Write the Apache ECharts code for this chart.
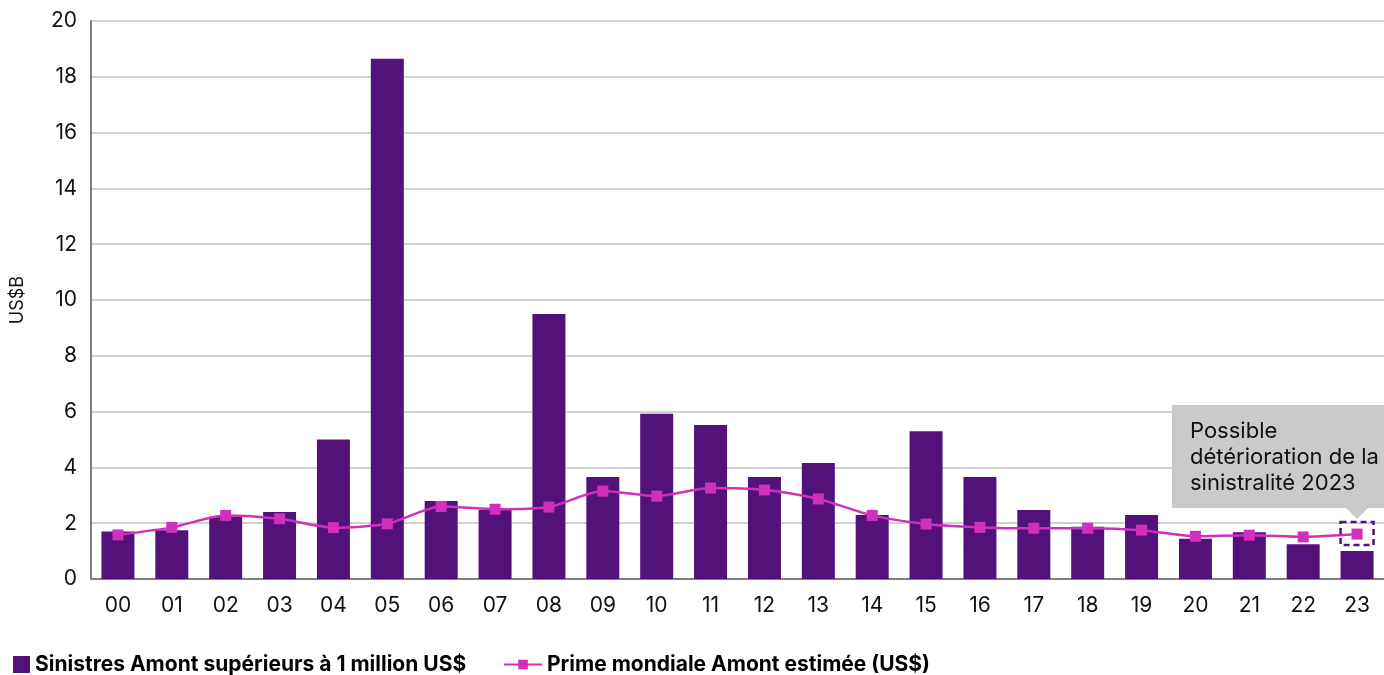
<!DOCTYPE html>
<html>
<head>
<meta charset="utf-8">
<script src="https://cdn.jsdelivr.net/npm/echarts@6/dist/echarts.min.js"></script>
<style>
  html, body { margin: 0; padding: 0; background: #fff; }
  #chart { width: 1384px; height: 675px; }
</style>
</head>
<body>
<div id="chart"></div>
<script>
const years = ['00','01','02','03','04','05','06','07','08','09','10','11','12','13','14','15','16','17','18','19','20','21','22','23']
const losses = [1.7, 1.75, 2.23, 2.4, 5.0, 18.65, 2.8, 2.47, 9.5, 3.66, 5.92, 5.52, 3.66, 4.16, 2.29, 5.3, 3.66, 2.47, 1.87, 2.29, 1.44, 1.68, 1.25, 1.0]
const premium = [1.58, 1.85, 2.28, 2.16, 1.84, 1.98, 2.6, 2.5, 2.58, 3.15, 2.97, 3.26, 3.19, 2.87, 2.28, 1.97, 1.85, 1.82, 1.82, 1.75, 1.53, 1.57, 1.51, 1.61]
const yTicks = { min: 0, max: 20, interval: 2 }
const lossName = 'Sinistres Amont supérieurs à 1 million US$'
const premiumName = 'Prime mondiale Amont estimée (US$)'
const noteLines = ['Possible', 'détérioration de la', 'sinistralité 2023']

const font = 'Inter, "Noto Sans", sans-serif'
const chart = echarts.init(document.getElementById('chart'))

chart.setOption({
  animation: false,
  textStyle: { fontFamily: font },
  grid: { left: 91, right: -4, top: 21, bottom: 96 },
  legend: [
    {
      data: [{ name: lossName, icon: 'rect' }],
      left: 8, bottom: -5, itemWidth: 17, itemHeight: 17, itemGap: 8,
      textStyle: { fontSize: 21, fontWeight: 'bold', color: '#000', fontFamily: font }
    },
    {
      data: [premiumName],
      left: 498, bottom: -5, itemWidth: 38, itemHeight: 12,
      textStyle: { fontSize: 21, fontWeight: 'bold', color: '#000', fontFamily: font }
    }
  ],
  xAxis: {
    type: 'category',
    data: years,
    axisTick: { show: false },
    axisLine: { lineStyle: { color: '#808080', width: 2 } },
    axisLabel: { fontSize: 21, color: '#111', margin: 16 }
  },
  yAxis: {
    type: 'value',
    min: yTicks.min, max: yTicks.max, interval: yTicks.interval,
    name: 'US$B',
    nameLocation: 'middle',
    nameGap: 64,
    nameTextStyle: { fontSize: 18, color: '#111' },
    axisLine: { show: true, lineStyle: { color: '#808080', width: 2 } },
    axisTick: { show: false },
    axisLabel: { fontSize: 21, color: '#111', margin: 14 },
    splitLine: { lineStyle: { color: '#d0d0d0', width: 2 } }
  },
  series: [
    {
      name: lossName,
      type: 'bar',
      data: losses,
      barWidth: 33,
      itemStyle: { color: '#52127a' }
    },
    {
      name: premiumName,
      type: 'line',
      data: premium,
      smooth: 0.25,
      symbol: 'rect',
      symbolSize: 11,
      lineStyle: { color: '#d12fbd', width: 2.5 },
      itemStyle: { color: '#d12fbd' }
    }
  ]
})

// callout and dashed box anchored to the 2023 point
const last = years.length - 1
const pt = chart.convertToPixel({ seriesIndex: 1 }, [last, premium[last]])
const boxW = 33, boxH = 23
const calloutRight = 1384, calloutLeft = 1172, calloutBottom = pt[1] - 26, calloutTop = calloutBottom - 103
chart.setOption({
  graphic: [
    {
      type: 'rect',
      shape: { x: pt[0] - boxW / 2, y: pt[1] - 12, width: boxW, height: boxH },
      style: { fill: 'none', stroke: '#52127a', lineWidth: 2.5, lineDash: [6, 4] },
      z: 10
    },
    {
      type: 'polygon',
      shape: {
        points: [
          [calloutLeft, calloutTop], [calloutRight, calloutTop], [calloutRight, calloutBottom],
          [pt[0] + 11, calloutBottom], [pt[0], calloutBottom + 11], [pt[0] - 11, calloutBottom],
          [calloutLeft, calloutBottom]
        ]
      },
      style: { fill: '#c9cacc' },
      z: 10
    },
    {
      type: 'text',
      left: calloutLeft + 18,
      top: calloutTop + 13,
      style: {
        text: noteLines.join('\n'),
        font: '22px ' + font,
        fill: '#111',
        lineHeight: 26
      },
      z: 11
    }
  ]
})
</script>
</body>
</html>
